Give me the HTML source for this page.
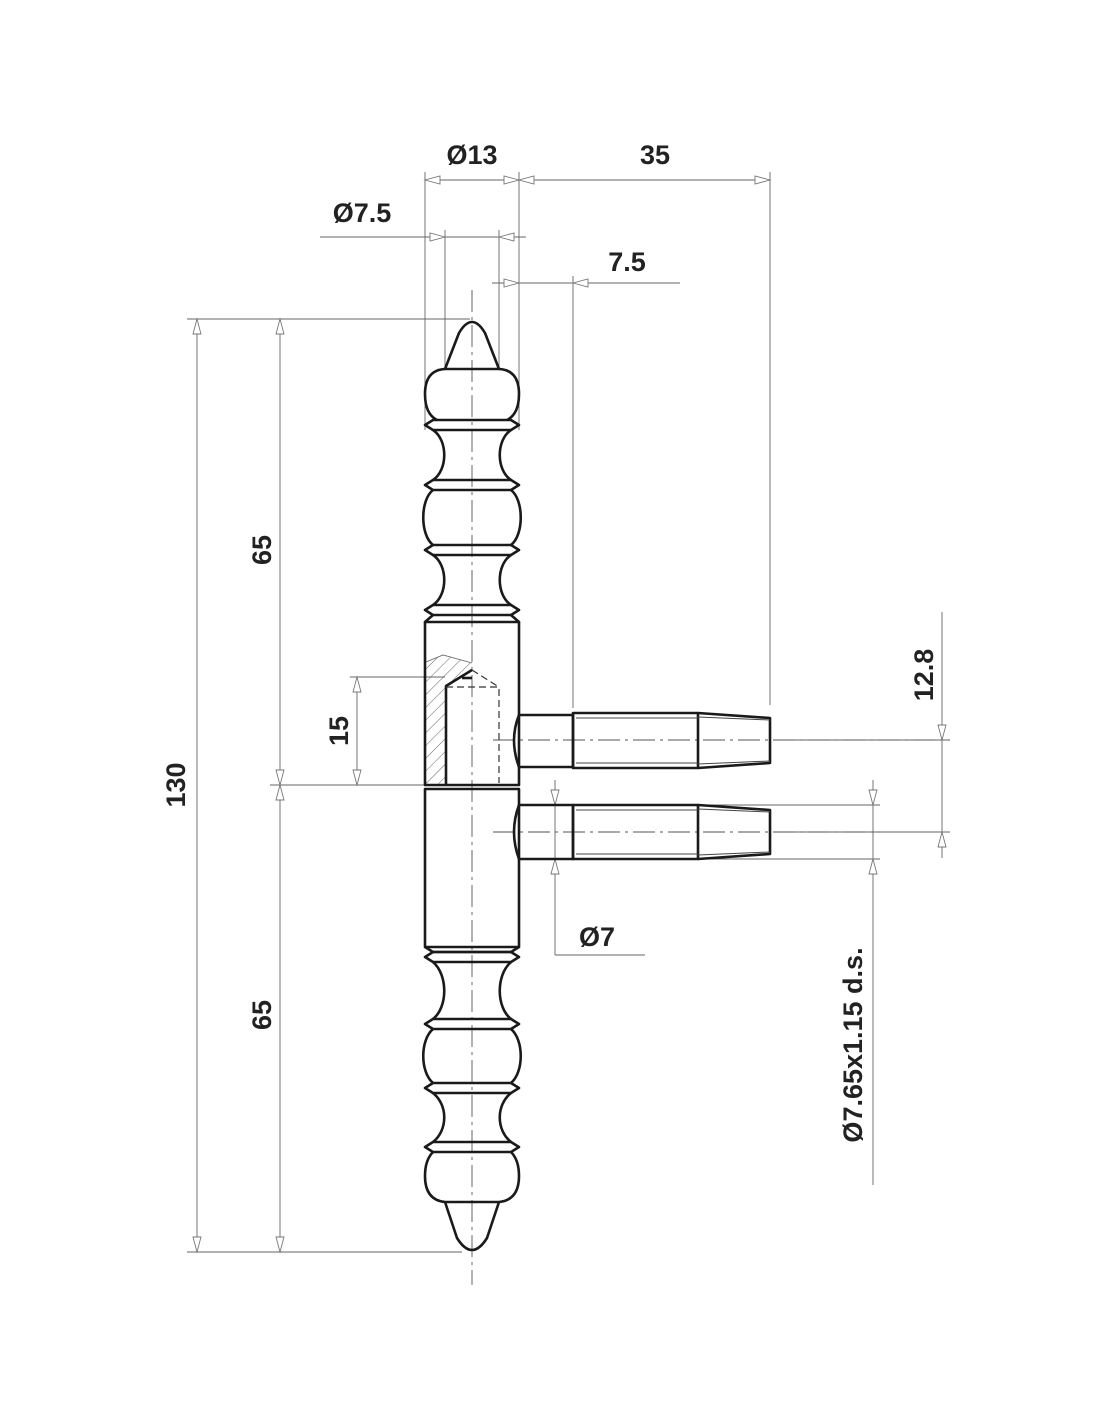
<!DOCTYPE html>
<html><head><meta charset="utf-8"><style>
html,body{margin:0;padding:0;background:#fff;}
svg{display:block;}
text{font-family:"Liberation Sans",sans-serif;font-weight:bold;font-size:27px;fill:#222;}
</style></head><body>
<svg width="1100" height="1422" viewBox="0 0 1100 1422" xmlns="http://www.w3.org/2000/svg">
<defs>
<path id="a" d="M0,0 L-15,-4 L-15,4 Z" fill="#fff" stroke="#777" stroke-width="0.9"/>
<pattern id="h" width="9" height="9" patternUnits="userSpaceOnUse" patternTransform="rotate(45)">
<line x1="0" y1="0" x2="0" y2="9" stroke="#555" stroke-width="0.9"/></pattern>
</defs>

<g stroke="#666" stroke-width="0.9" fill="none">
<line x1="425" y1="172" x2="425" y2="430"/>
<line x1="519" y1="172" x2="519" y2="430"/>
<line x1="425" y1="180" x2="770" y2="180"/>
<line x1="770" y1="172" x2="770" y2="705"/>
<line x1="320" y1="237" x2="526" y2="237"/>
<line x1="445" y1="230" x2="445" y2="369"/>
<line x1="499" y1="230" x2="499" y2="369"/>
<line x1="492" y1="283" x2="680" y2="283"/>
<line x1="573" y1="276" x2="573" y2="708"/>
<line x1="187" y1="319" x2="470" y2="319"/>
<line x1="187" y1="1252" x2="462" y2="1252"/>
<line x1="197" y1="319" x2="197" y2="1252"/>
<line x1="280" y1="319" x2="280" y2="1252"/>
<line x1="270" y1="785" x2="425" y2="785"/>
<line x1="350" y1="677" x2="445" y2="677"/>
<line x1="357" y1="677" x2="357" y2="785"/>
<line x1="942" y1="612" x2="942" y2="858"/>
<line x1="790" y1="740" x2="950" y2="740"/>
<line x1="790" y1="832" x2="950" y2="832"/>
<line x1="873" y1="780" x2="873" y2="1185"/>
<line x1="573" y1="805" x2="880" y2="805"/>
<line x1="573" y1="859" x2="880" y2="859"/>
<line x1="555" y1="780" x2="555" y2="955"/>
<line x1="555" y1="955" x2="645" y2="955"/>
</g>
<g stroke="#555" stroke-width="0.9" stroke-dasharray="22,5,3,5" fill="none">
<line x1="472" y1="290" x2="472" y2="1285"/>
<line x1="493" y1="740" x2="950" y2="740"/>
<line x1="493" y1="832" x2="880" y2="832"/>
</g>

<use href="#a" transform="translate(425,180) rotate(180)"/>
<use href="#a" transform="translate(519,180)"/>
<use href="#a" transform="translate(519,180) rotate(180)"/>
<use href="#a" transform="translate(770,180)"/>
<use href="#a" transform="translate(445,237)"/>
<use href="#a" transform="translate(499,237) rotate(180)"/>
<use href="#a" transform="translate(519,283)"/>
<use href="#a" transform="translate(573,283) rotate(180)"/>
<use href="#a" transform="translate(197,319) rotate(-90)"/>
<use href="#a" transform="translate(197,1252) rotate(90)"/>
<use href="#a" transform="translate(280,319) rotate(-90)"/>
<use href="#a" transform="translate(280,785) rotate(90)"/>
<use href="#a" transform="translate(280,785) rotate(-90)"/>
<use href="#a" transform="translate(280,1252) rotate(90)"/>
<use href="#a" transform="translate(357,677) rotate(-90)"/>
<use href="#a" transform="translate(357,785) rotate(90)"/>
<use href="#a" transform="translate(942,740) rotate(90)"/>
<use href="#a" transform="translate(942,832) rotate(-90)"/>
<use href="#a" transform="translate(873,805) rotate(90)"/>
<use href="#a" transform="translate(873,859) rotate(-90)"/>
<use href="#a" transform="translate(555,805) rotate(90)"/>
<use href="#a" transform="translate(555,859) rotate(-90)"/>

<path d="M426,662 L443,655 L472,663 L472,670 L446,686 L446,785 L426,785 Z" fill="url(#h)" stroke="none"/>
<path d="M426,662 L443,655 L472,663" stroke="#666" stroke-width="0.9" fill="none"/>

<g stroke="#1a1a1a" stroke-width="2.6" fill="none" stroke-linejoin="round">
<path d="M445,369 L459,333 Q472,311 485,333 L499,369 Z"/>
<path d="M445,369 Q425,370 425,394 Q425,414 437,420"/>
<path d="M499,369 Q519,370 519,394 Q519,414 507,420"/>
<path d="M433,420 L511,420 L519,425 L511,430 L433,430 L425,425 Z"/>
<path d="M433,480 L511,480 L519,485 L511,490 L433,490 L425,485 Z"/>
<path d="M433,545 L511,545 L519,550 L511,555 L433,555 L425,550 Z"/>
<path d="M433,605 L511,605 L519,610 L511,615 L433,615 L425,610 Z"/>
<path d="M433,430 C448,440 448,470 433,480"/>
<path d="M511,430 C496,440 496,470 511,480"/>
<path d="M433,555 C448,565 448,595 433,605"/>
<path d="M511,555 C496,565 496,595 511,605"/>
<path d="M433,490 C420,500 420,535 433,545"/>
<path d="M511,490 C524,500 524,535 511,545"/>
<path d="M433,615 L425,622 L519,622 L511,615"/>
<path d="M425,622 L425,785 L519,785 L519,622"/>
<path d="M425,789 L519,789 L519,947 L425,947 Z"/>
<path d="M425,947 L433,952 L511,952 L519,947"/>
<path d="M433,952 L511,952 L519,957 L511,962 L433,962 L425,957 Z"/>
<path d="M433,1019 L511,1019 L519,1024 L511,1029 L433,1029 L425,1024 Z"/>
<path d="M433,1083 L511,1083 L519,1088 L511,1093 L433,1093 L425,1088 Z"/>
<path d="M433,1142 L511,1142 L519,1147 L511,1152 L433,1152 L425,1147 Z"/>
<path d="M433,962 C448,975 448,1007 433,1019"/>
<path d="M511,962 C496,975 496,1007 511,1019"/>
<path d="M433,1029 C420,1040 420,1072 433,1083"/>
<path d="M511,1029 C524,1040 524,1072 511,1083"/>
<path d="M433,1093 C448,1105 448,1130 433,1142"/>
<path d="M511,1093 C496,1105 496,1130 511,1142"/>
<path d="M433,1152 Q425,1160 425,1176 Q425,1200 445,1202 L499,1202 Q519,1200 519,1176 Q519,1160 511,1152"/>
<path d="M445,1202 L457,1238 Q472,1262 487,1238 L499,1202"/>
<path d="M446,785 L446,686 L472,670"/>
<path d="M462,678 L472,678"/>
<path d="M519,715 Q509,740 519,767"/>
<path d="M519,715 L573,715 L573,767 L519,767"/>
<path d="M573,713 L698,713 L698,768 L573,768 Z"/>
<path d="M698,713 L770,718 L770,763 L698,768"/>
<path d="M519,805 Q509,832 519,859"/>
<path d="M519,805 L573,805 L573,859 L519,859"/>
<path d="M573,805 L698,805 L698,859 L573,859 Z"/>
<path d="M698,805 L770,810 L770,854 L698,859"/>
</g>
<g stroke="#444" stroke-width="1" fill="none">
<path d="M576,718 L698,718 M576,763 L698,763 M576,810 L698,810 M576,854 L698,854"/>
<path d="M698,717 L770,720 M698,764 L770,761 M698,809 L770,812 M698,855 L770,852"/>
</g>
<g stroke="#333" stroke-width="1.2" fill="none" stroke-dasharray="7,4">
<path d="M446,687 L499,687 L499,783"/>
<path d="M472,670 L499,687"/>
</g>

<text x="472" y="164" text-anchor="middle">Ø13</text>
<text x="655" y="164" text-anchor="middle">35</text>
<text x="362" y="222" text-anchor="middle">Ø7.5</text>
<text x="627" y="271" text-anchor="middle">7.5</text>
<text x="597" y="946" text-anchor="middle">Ø7</text>
<text transform="translate(185,785) rotate(-90)" text-anchor="middle">130</text>
<text transform="translate(271,550) rotate(-90)" text-anchor="middle">65</text>
<text transform="translate(271,1015) rotate(-90)" text-anchor="middle">65</text>
<text transform="translate(348,731) rotate(-90)" text-anchor="middle">15</text>
<text transform="translate(933,675) rotate(-90)" text-anchor="middle">12.8</text>
<text transform="translate(862,1045) rotate(-90)" text-anchor="middle">Ø7.65x1.15 d.s.</text>
</svg>
</body></html>
